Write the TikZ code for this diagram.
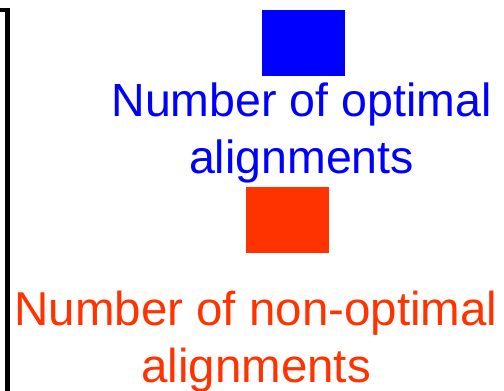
\documentclass[tikz,border=0pt]{standalone}
\usepackage{fontspec}
\setmainfont{Liberation Sans}
\usepackage{xcolor}
\usetikzlibrary{positioning}
\definecolor{optblue}{HTML}{0000FF}
\definecolor{nonoptred}{HTML}{FF3300}
\tikzstyle{swatch} = [rectangle, inner sep=0pt, minimum width=83bp, minimum height=66bp]
\tikzstyle{legendtext} = [inner sep=0pt, align=center]

\begin{document}
\begin{tikzpicture}[x=1bp,y=-1bp]
\useasboundingbox (0,0) rectangle (504,390);
% frame edge on the left
\draw[line width=4.5bp] (-10,10) -- (7.5,10) -- (7.5,400);

\node[swatch, fill=optblue] (optsq) at (303.5,43) {};
\node[legendtext, text=optblue, font=\fontsize{46.5bp}{57bp}\selectfont, below=6bp of optsq, xshift=-2bp] (opttext) {Number of optimal\\alignments};
\node[swatch, fill=nonoptred, below=4bp of opttext, xshift=-14bp] (nonoptsq) {};
\node[legendtext, text=nonoptred, font=\fontsize{47.5bp}{57bp}\selectfont, below=38bp of nonoptsq, xshift=-31.5bp] (nonopttext) {Number of non-optimal\\alignments};
\end{tikzpicture}
\end{document}
